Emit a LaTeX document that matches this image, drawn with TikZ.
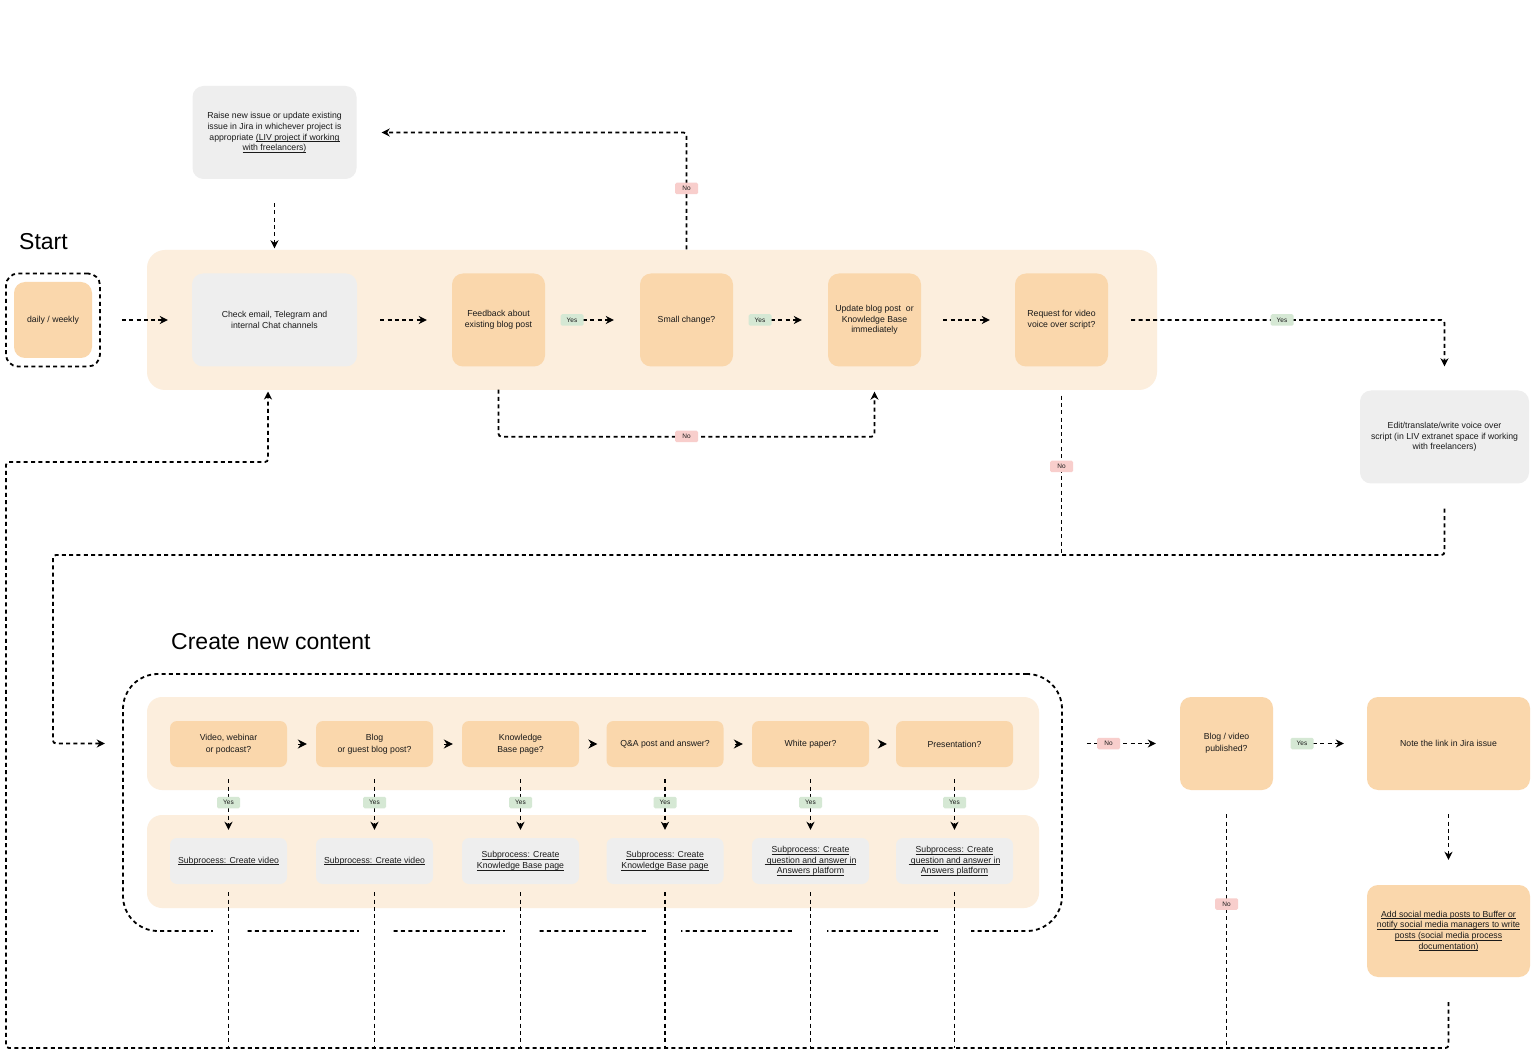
\documentclass[tikz,border=0pt]{standalone}
\usepackage{fontspec}
\setmainfont{Liberation Sans}
\usetikzlibrary{arrows.meta,calc}
\definecolor{panelc}{HTML}{FCEEDD}
\definecolor{orangec}{HTML}{FAD7AC}
\definecolor{grayc}{HTML}{EEEEEE}
\definecolor{yesc}{HTML}{D5E8D4}
\definecolor{noc}{HTML}{F8CECC}
\definecolor{txtc}{HTML}{1A1A1A}
\newcommand{\ulx}[1]{\setbox0=\hbox{#1}\rlap{\rule[-1.6pt]{\wd0}{0.55pt}}\box0}
\begin{document}
\begin{tikzpicture}[x=1pt,y=-1pt,
  txt/.style={font=\fontsize{8.7}{10.6}\selectfont, align=center, text=txtc},
  obox/.style={txt, rectangle, fill=orangec, rounded corners=11pt, inner sep=0pt},
  gbox/.style={txt, rectangle, fill=grayc, rounded corners=11pt, inner sep=0pt},
  qbox/.style={txt, rectangle, fill=orangec, rounded corners=7pt, inner sep=0pt, minimum width=117pt, minimum height=46pt},
  sbox/.style={txt, rectangle, fill=grayc, rounded corners=7pt, inner sep=0pt, minimum width=117pt, minimum height=46pt},
  panel/.style={rectangle, fill=panelc, inner sep=0pt},
  lbl/.style={font=\fontsize{6.5}{7}\selectfont, inner sep=0pt, minimum width=23pt, minimum height=11.5pt, rounded corners=1.5pt, text=txtc},
  yeslbl/.style={lbl, fill=yesc},
  nolbl/.style={lbl, fill=noc},
  dline/.style={line width=1.8pt, dash pattern=on 4pt off 3.3pt, rounded corners=3pt},
  flow/.style={dline, -{Stealth[length=8pt,width=8pt,inset=2.5pt]}},
  sarrow/.style={line width=1pt, -{Stealth[length=9pt,width=9pt,inset=3pt]}},
  title/.style={font=\fontsize{23}{26}\selectfont, inner sep=0pt, anchor=west, text=black}
]
\useasboundingbox (0,0) rectangle (1535,1056);
\fill[white] (0,0) rectangle (1535,1056);

% ---------- top section ----------
\node[title] (start) at (19,241.5) {Start};
\node[panel, rounded corners=18pt, minimum width=1010pt, minimum height=140pt] (toppanel) at (652,320) {};

\node[draw, dline, rounded corners=12pt, minimum width=94pt, minimum height=93pt] (dailyout) at (53,320) {};
\node[obox, minimum width=78pt, minimum height=76pt] (daily) at (53,320) {daily / weekly};

\node[gbox, minimum width=164pt, minimum height=93pt] (raise) at (274.5,132.5)
  {Raise new issue or update existing\\issue in Jira in whichever project is\\appropriate \ulx{(LIV project if working}\\\ulx{with freelancers)}};
\node[gbox, minimum width=165pt, minimum height=93pt] (check) at (274.5,320)
  {Check email, Telegram and\\internal Chat channels};
\node[obox, minimum width=93pt, minimum height=93pt] (feedback) at (498.5,320)
  {Feedback about\\existing blog post};
\node[obox, minimum width=93pt, minimum height=93pt] (small) at (686.5,320) {Small change?};
\node[obox, minimum width=93pt, minimum height=93pt] (update) at (874.5,320)
  {Update blog post\ \ or\\Knowledge Base\\immediately};
\node[obox, minimum width=93pt, minimum height=93pt] (request) at (1061.5,320)
  {Request for video\\voice over script?};
\node[gbox, minimum width=169pt, minimum height=93pt] (edit) at (1444.5,437)
  {Edit/translate/write voice over\\script (in LIV extranet space if working\\with freelancers)};

% ---------- bottom section ----------
\node[title] (ctitle) at (171,641.5) {Create new content};
\node[draw, dline, rounded corners=35pt, minimum width=939pt, minimum height=257pt] (bigbox) at (592.5,802.5) {};
\node[panel, rounded corners=15pt, minimum width=892pt, minimum height=93pt] (row1) at (593,743.5) {};
\node[panel, rounded corners=15pt, minimum width=892pt, minimum height=93pt] (row2) at (593,861.5) {};

\node[qbox] (q1) at (228.5,744) {Video, webinar\\[1.5pt]or podcast?};
\node[qbox] (q2) at (374.5,744) {Blog\\[1.5pt]or guest blog post?};
\node[qbox] (q3) at (520.5,744) {Knowledge\\[1.5pt]Base page?};
\node[qbox] (q4) at (665,744) {Q\&A post and answer?};
\node[qbox] (q5) at (810.5,744) {White paper?};
\node[qbox] (q6) at (954.5,744) {Presentation?};

\node[sbox] (s1) at (228.5,861) {\ulx{Subprocess: Create video}};
\node[sbox] (s2) at (374.5,861) {\ulx{Subprocess: Create video}};
\node[sbox] (s3) at (520.5,861) {\ulx{Subprocess: Create}\\\ulx{Knowledge Base page}};
\node[sbox] (s4) at (665,861) {\ulx{Subprocess: Create}\\\ulx{Knowledge Base page}};
\node[sbox] (s5) at (810.5,861) {\ulx{Subprocess: Create}\\\ulx{\ question and answer in}\\\ulx{Answers platform}};
\node[sbox] (s6) at (954.5,861) {\ulx{Subprocess: Create}\\\ulx{\ question and answer in}\\\ulx{Answers platform}};

\node[obox, minimum width=93pt, minimum height=93pt] (blog) at (1226.5,743.5) {Blog / video\\[1.5pt]published?};
\node[obox, minimum width=163pt, minimum height=93pt] (note) at (1448.5,743.5) {Note the link in Jira issue};
\node[obox, minimum width=163pt, minimum height=92pt] (add) at (1448.5,931)
  {\ulx{Add social media posts to Buffer or}\\\ulx{notify social media managers to write}\\\ulx{posts (social media process}\\\ulx{documentation)}};

% gaps in the dashed outline where return lines cross it
\foreach \i in {1,...,6} {
  \fill[white] ($(s\i.south |- bigbox.south)+(-16,-4)$) rectangle ++(32,8);
}

% ---------- coordinates ----------
\coordinate (eL) at (53,555);
\coordinate (bot) at (6,1048);
\coordinate (lp1) at (6,462);
\coordinate (loopend) at (268,390);

% ---------- connectors: top ----------
\draw[flow, shorten <=24pt, shorten >=25pt] (raise.south) -- (check.north);
\draw[flow, shorten <=21pt, shorten >=24pt] (dailyout.east) -- (check.west);
\draw[flow, shorten <=23pt, shorten >=25pt] (check.east) -- (feedback.west);
\draw[flow, shorten <=16pt, shorten >=26pt] (feedback.east) -- (small.west);
\draw[flow, shorten <=16pt, shorten >=26pt] (small.east) -- (update.west);
\draw[flow, shorten <=22pt, shorten >=25pt] (update.east) -- (request.west);
\draw[flow, shorten <=23pt, shorten >=24pt] (request.east) -| (edit.north);
\draw[flow, shorten <=24pt, shorten >=25pt] (small.north) |- (raise.east);
\draw[flow, shorten <=23pt, shorten >=25pt] (feedback.south) -- ++(0,70) -| (update.south);
\draw[dline, shorten <=29pt] (request.south) -- (request.south |- eL);
\draw[flow, shorten <=25pt, shorten >=42pt] (edit.south) |- (eL) |- (row1.west);

% ---------- connectors: bottom ----------
\foreach \i/\j in {1/2,2/3,3/4,4/5,5/6} {
  \draw[sarrow, shorten <=11pt, shorten >=9pt] (q\i.east) -- (q\j.west);
}
\foreach \i in {1,...,6} {
  \draw[flow, shorten <=12pt, shorten >=8pt] (q\i.south) -- (s\i.north);
  \draw[dline, shorten <=8pt] (s\i.south) -- (s\i.south |- bot);
  \node[yeslbl] (yq\i) at ($(q\i.south)!0.5!(s\i.north)$) {Yes};
}
\draw[flow, shorten <=24pt, shorten >=24pt] (bigbox.east |- blog.west) -- (blog.west);
\draw[flow, shorten <=18pt, shorten >=23pt] (blog.east) -- (note.west);
\draw[flow, shorten <=24pt, shorten >=25pt] (note.south) -- (add.north);
\draw[dline, shorten <=24pt] (blog.south) -- (blog.south |- bot);
\draw[flow, shorten <=25pt, shorten >=1.5pt] (add.south) |- (bot) -- (lp1) -| (loopend);

% ---------- labels ----------
\node[yeslbl] (ly1) at (572,320) {Yes};
\node[yeslbl] (ly2) at (760,320) {Yes};
\node[yeslbl] (ly3) at (1282,320) {Yes};
\node[nolbl] (ln1) at (686.5,188.5) {No};
\node[nolbl] (ln2) at (686.5,436.5) {No};
\node[nolbl] (ln3) at (1061.5,466.5) {No};
\node[nolbl] (ln4) at (1108.5,743.5) {No};
\node[yeslbl] (ly4) at (1302,743.5) {Yes};
\node[nolbl] (ln5) at (1226.5,904) {No};
\end{tikzpicture}
\end{document}
